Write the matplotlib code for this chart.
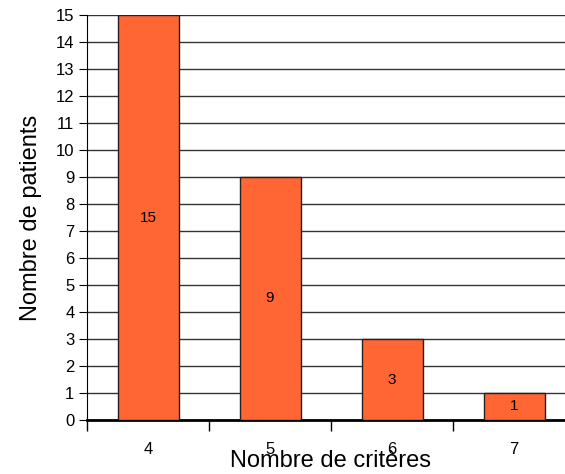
import numpy as np
import matplotlib.pyplot as plt

plt.rcParams['font.family'] = ['Liberation Sans', 'DejaVu Sans']

criteres = ['4', '5', '6', '7']
patients = [15, 9, 3, 1]

fig = plt.figure(figsize=(5.65, 4.74), dpi=100)
# axes run past the right edge, as in the original
ax = fig.add_axes([87 / 565, 1 - 420 / 474, 488 / 565, 405 / 474])

x = np.arange(len(criteres))
bars = ax.bar(x, patients, width=0.5, color='#FF6633', edgecolor='#222222', linewidth=1, zorder=3)
for xi, v in zip(x, patients):
    ax.text(xi, v / 2, str(v), ha='center', va='center', fontsize=11, zorder=4)

ax.set_xlim(-0.5, 3.5)
ax.set_ylim(0, 15)
ax.set_yticks(range(0, 16))
ax.yaxis.grid(True, color='#333333', linewidth=1, zorder=0)
ax.tick_params(axis='y', length=6, labelsize=12, pad=3)

ax.set_xticks(np.arange(-0.5, 4, 1))
ax.set_xticklabels([])
ax.set_xticks(x, minor=True)
ax.set_xticklabels(criteres, minor=True)
ax.tick_params(axis='x', which='major', length=8, width=1)
ax.tick_params(axis='x', which='minor', length=0, labelsize=12, pad=16)

for s in ['top', 'right']:
    ax.spines[s].set_visible(False)
ax.spines['bottom'].set_linewidth(2)

ax.set_xlabel('Nombre de critères', fontsize=17, labelpad=-5)
ax.set_ylabel('Nombre de patients', fontsize=17, labelpad=10)

fig.savefig('out.png', dpi=100)
